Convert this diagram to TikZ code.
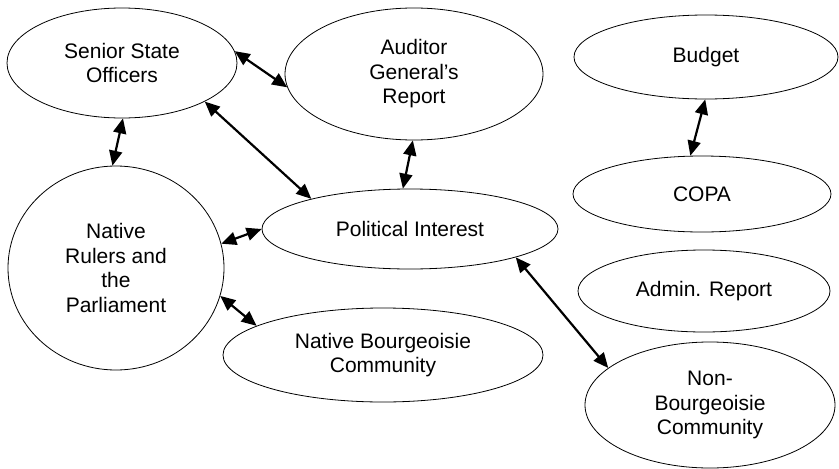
\documentclass[tikz,border=0pt]{standalone}
\usepackage{fontspec}
\setmainfont{Liberation Sans}
\usetikzlibrary{arrows.meta,shapes.geometric}

\begin{document}
\begin{tikzpicture}[x=1pt,y=-1pt,
		bubble/.style={draw,ellipse,line width=0.8pt,inner sep=0pt,align=center,font=\fontsize{21}{24.5}\selectfont},
		link/.style={{Triangle[length=15pt,width=13pt]}-{Triangle[length=15pt,width=13pt]},line width=2.2pt}]
		\useasboundingbox (0,0) rectangle (839,469);
		\node[bubble,minimum width=230,minimum height=110] (sso) at (122,63) {Senior State\\Officers};
		\node[bubble,minimum width=258,minimum height=132] (aud) at (414,74) {Auditor\\General's\\Report};
		\node[bubble,minimum width=264,minimum height=84] (budget) at (706,57) {Budget};
		\node[bubble,minimum width=258,minimum height=76] (copa) at (702,194) {COPA};
		\node[bubble,minimum width=296,minimum height=80] (pol) at (410,229) {Political Interest};
		\node[bubble,minimum width=216,minimum height=204] (nr) at (116,268) {Native\\Rulers and\\the\\Parliament};
		\node[bubble,minimum width=252,minimum height=82] (adm) at (704,291) {Admin. Report};
		\node[bubble,minimum width=320,minimum height=94] (nb) at (383,355) {Native Bourgeoisie\\Community};
		\node[bubble,minimum width=250,minimum height=126] (nonb) at (710,405) {Non-\\Bourgeoisie\\Community};
		\draw[link] (sso.6) -- (aud.186);
		\draw[link] (sso.-89) -- (nr.92);
		\draw[link] (sso.-25) -- (pol.163);
		\draw[link] (aud.-91) -- (pol.100);
		\draw[link] (nr.13) -- (pol.180);
		\draw[link] (nr.-15) -- (nb.167);
		\draw[link] (pol.-15) -- (nonb.160);
		\draw[link] (budget.-91) -- (copa.107);
\end{tikzpicture}
\end{document}
